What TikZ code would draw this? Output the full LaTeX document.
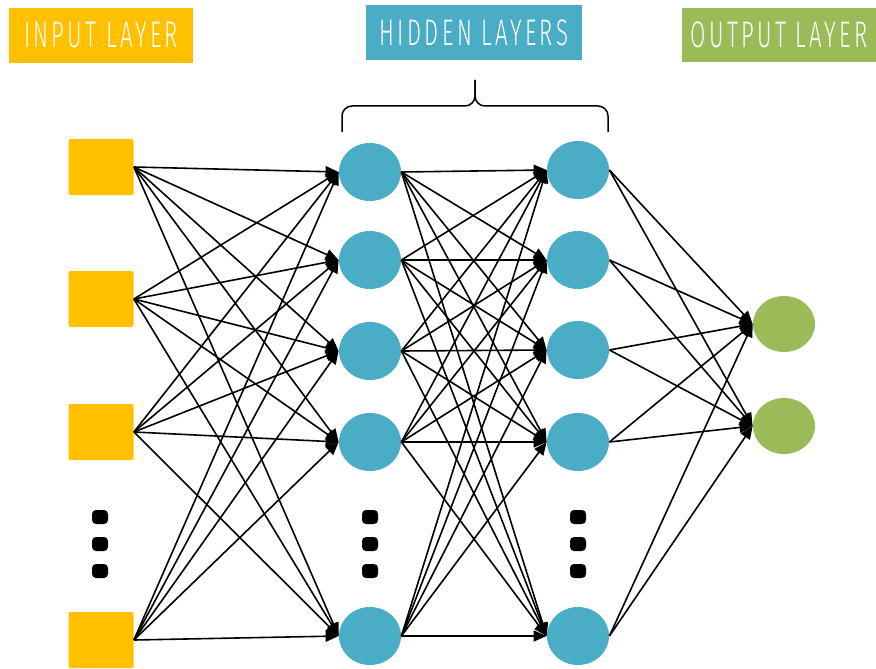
\documentclass[tikz,border=0pt]{standalone}
\usepackage{fontspec}
\newfontfamily\layerfont{Fira Sans}[UprightFont=* Light, FakeStretch=0.6, LetterSpace=9]
\usepackage{tikz}
\usetikzlibrary{arrows.meta,shapes.geometric}
\definecolor{inyellow}{HTML}{FFC000}
\definecolor{hidblue}{HTML}{4BACC6}
\definecolor{outgreen}{HTML}{9BBB59}

\begin{document}
\begin{tikzpicture}[x=0.5pt,y=0.5pt,
  in node/.style={rectangle,fill=inyellow,minimum width=32.5pt,minimum height=28pt,rounded corners=1pt,inner sep=0pt},
  hid node/.style={ellipse,fill=hidblue,minimum width=31pt,minimum height=29pt,inner sep=0pt},
  out node/.style={ellipse,fill=outgreen,minimum width=31pt,minimum height=28pt,inner sep=0pt},
  dot node/.style={rectangle,fill=black,minimum width=8pt,minimum height=7pt,rounded corners=2pt,inner sep=0pt},
  title node/.style={rectangle,text=white,inner sep=0pt,font=\layerfont\fontsize{18.5}{18.5}\selectfont},
  edge/.style={line width=0.8pt,-{Triangle[length=6.5pt,width=5.5pt]}}]

\useasboundingbox (0,0) rectangle (876,-668);

% titles
\node at (101,-35.5) [title node,fill=inyellow,minimum width=92pt,minimum height=27.5pt] (tin) {INPUT LAYER};
\node at (474,-32.5) [title node,fill=hidblue,minimum width=108pt,minimum height=27.5pt] (thid) {HIDDEN LAYERS};
\node at (779,-35) [title node,fill=outgreen,minimum width=97pt,minimum height=27pt] (tout) {OUTPUT LAYER};

% brace
\draw[line width=0.75pt,rounded corners=5pt] (342,-132) -- (342,-106) -- (475,-106) -- (475,-80);
\draw[line width=0.75pt,rounded corners=5pt] (608,-132) -- (608,-106) -- (475,-106) -- (475,-80);

% input layer
\node at (101,-167) [in node] (i1) {};
\node at (101,-299) [in node] (i2) {};
\node at (101,-432) [in node] (i3) {};
\node at (101,-640) [in node] (i4) {};

% hidden layers
\node at (370,-172) [hid node] (a1) {};
\node at (370,-260) [hid node] (a2) {};
\node at (370,-351) [hid node] (a3) {};
\node at (370,-442) [hid node] (a4) {};
\node at (370,-636) [hid node] (a5) {};

\node at (578,-170) [hid node] (b1) {};
\node at (578,-260) [hid node] (b2) {};
\node at (578,-350) [hid node] (b3) {};
\node at (578,-442) [hid node] (b4) {};
\node at (578,-636) [hid node] (b5) {};

% output layer
\node at (784,-324) [out node] (o1) {};
\node at (784,-426) [out node] (o2) {};

% dots
\foreach \x/\c in {100/p,370/q,578/r} {
  \node at (\x,-517) [dot node] (\c1) {};
  \node at (\x,-544) [dot node] (\c2) {};
  \node at (\x,-571) [dot node] (\c3) {};
}

% connections
\foreach \s in {i1,i2,i3,i4}
  \foreach \t in {a1,a2,a3,a4,a5}
    \draw[edge] (\s.east) -- (\t.west);
\foreach \s in {a1,a2,a3,a4,a5}
  \foreach \t in {b1,b2,b3,b4,b5}
    \draw[edge] (\s.east) -- (\t.west);
\foreach \s in {b1,b2,b3,b4,b5}
  \foreach \t in {o1,o2}
    \draw[edge] (\s.east) -- (\t.west);

\end{tikzpicture}
\end{document}
